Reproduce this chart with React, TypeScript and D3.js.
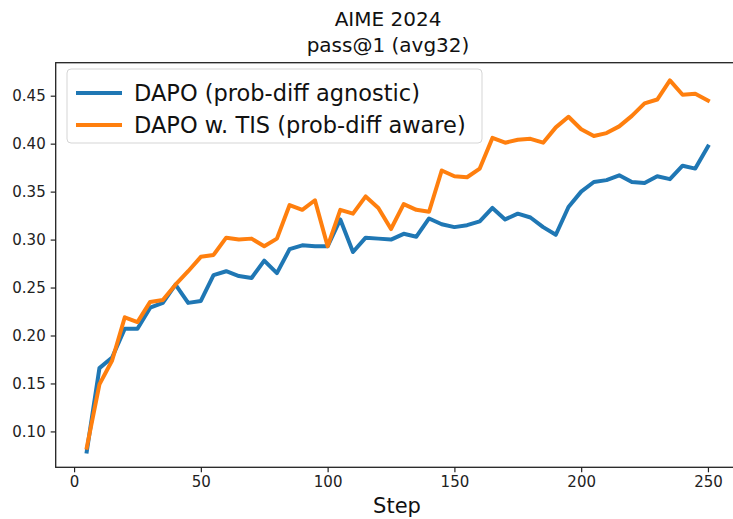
import React, { useEffect, useRef } from "react";
import * as d3 from "d3";

const steps = [
  5, 10, 15, 20, 25, 30, 35, 40, 45, 50, 55, 60, 65, 70, 75, 80, 85, 90, 95, 100,
  105, 110, 115, 120, 125, 130, 135, 140, 145, 150, 155, 160, 165, 170, 175, 180,
  185, 190, 195, 200, 205, 210, 215, 220, 225, 230, 235, 240, 245, 250,
];

const dapo = [
  0.079, 0.166, 0.177, 0.207, 0.207, 0.229, 0.234, 0.253, 0.234, 0.236,
  0.263, 0.267, 0.262, 0.260, 0.278, 0.265, 0.290, 0.294, 0.293, 0.293,
  0.321, 0.287, 0.302, 0.301, 0.300, 0.306, 0.303, 0.322, 0.316, 0.313,
  0.315, 0.319, 0.333, 0.321, 0.327, 0.323, 0.313, 0.305, 0.334, 0.350,
  0.360, 0.362, 0.367, 0.360, 0.359, 0.366, 0.363, 0.377, 0.374, 0.397,
];

const dapoTis = [
  0.083, 0.149, 0.174, 0.219, 0.214, 0.235, 0.237, 0.253, 0.267, 0.282,
  0.284, 0.302, 0.300, 0.301, 0.293, 0.301, 0.336, 0.331, 0.341, 0.293,
  0.331, 0.327, 0.345, 0.333, 0.311, 0.337, 0.331, 0.329, 0.372, 0.366,
  0.365, 0.374, 0.406, 0.401, 0.404, 0.405, 0.401, 0.417, 0.428, 0.415,
  0.408, 0.411, 0.418, 0.429, 0.442, 0.446, 0.466, 0.451, 0.452, 0.445,
];

const seriesNames = ["DAPO (prob-diff agnostic)", "DAPO w. TIS (prob-diff aware)"];
const seriesColors = ["#1f77b4", "#ff7f0e"];
const xTicks = [0, 50, 100, 150, 200, 250];
const yTicks = [0.1, 0.15, 0.2, 0.25, 0.3, 0.35, 0.4, 0.45];

const font = "DejaVu Sans, sans-serif";

function App() {
  const svgRef = useRef<SVGSVGElement>(null);
  const width = 733;
  const height = 519;
  const plot = { left: 55.7, right: 739, top: 62.7, bottom: 467.3 };

  useEffect(() => {
    const svg = d3.select(svgRef.current);
    svg.selectAll("*").remove();

    const x = d3.scaleLinear().domain([-7.25, 262.25]).range([plot.left, plot.right]);
    const y = d3.scaleLinear().domain([0.0626, 0.4844]).range([plot.bottom, plot.top]);

    svg.append("rect").attr("width", width).attr("height", height).attr("fill", "white");

    // title
    const title = svg
      .append("text")
      .attr("text-anchor", "middle")
      .attr("font-family", font)
      .attr("font-size", 20)
      .attr("fill", "#111");
    title.append("tspan").attr("x", 388).attr("y", 26).text("AIME 2024");
    title.append("tspan").attr("x", 388).attr("y", 52).text("pass@1 (avg32)");

    // lines
    const line = d3
      .line<number>()
      .x((_, i) => x(steps[i]))
      .y((d) => y(d));

    [dapo, dapoTis].forEach((vals, k) => {
      svg
        .append("path")
        .datum(vals)
        .attr("d", line)
        .attr("fill", "none")
        .attr("stroke", seriesColors[k])
        .attr("stroke-width", 4)
        .attr("stroke-linejoin", "round")
        .attr("stroke-linecap", "square");
    });

    // frame
    svg
      .append("rect")
      .attr("x", plot.left)
      .attr("y", plot.top)
      .attr("width", plot.right - plot.left)
      .attr("height", plot.bottom - plot.top)
      .attr("fill", "none")
      .attr("stroke", "#222")
      .attr("stroke-width", 1.3);

    // x axis
    const xAxis = svg
      .append("g")
      .attr("transform", `translate(0,${plot.bottom})`)
      .call(d3.axisBottom(x).tickValues(xTicks).tickSize(5).tickPadding(4).tickFormat(d3.format("d")));
    xAxis.select(".domain").remove();
    xAxis.selectAll("line").attr("stroke", "#222").attr("stroke-width", 1.2);
    xAxis
      .selectAll("text")
      .attr("font-family", font)
      .attr("font-size", 15)
      .attr("fill", "#222");

    // y axis
    const yAxis = svg
      .append("g")
      .attr("transform", `translate(${plot.left},0)`)
      .call(d3.axisLeft(y).tickValues(yTicks).tickSize(5).tickPadding(5).tickFormat(d3.format(".2f")));
    yAxis.select(".domain").remove();
    yAxis.selectAll("line").attr("stroke", "#222").attr("stroke-width", 1.2);
    yAxis
      .selectAll("text")
      .attr("font-family", font)
      .attr("font-size", 15)
      .attr("fill", "#222");

    svg
      .append("text")
      .attr("x", 397)
      .attr("y", 513)
      .attr("text-anchor", "middle")
      .attr("font-family", font)
      .attr("font-size", 21)
      .attr("fill", "#111")
      .text("Step");

    // legend
    const legend = svg.append("g");
    legend
      .append("rect")
      .attr("x", 67)
      .attr("y", 69)
      .attr("width", 415)
      .attr("height", 74)
      .attr("rx", 4)
      .attr("fill", "white")
      .attr("fill-opacity", 0.8)
      .attr("stroke", "#d5d5d5")
      .attr("stroke-width", 1);

    seriesNames.forEach((name, i) => {
      const cy = 93 + i * 32;
      legend
        .append("line")
        .attr("x1", 76)
        .attr("x2", 122)
        .attr("y1", cy)
        .attr("y2", cy)
        .attr("stroke", seriesColors[i])
        .attr("stroke-width", 4);
      legend
        .append("text")
        .attr("x", 134)
        .attr("y", cy + 8)
        .attr("font-family", font)
        .attr("font-size", 22.5)
        .attr("fill", "#111")
        .text(name);
    });
  }, []);

  return (
    <svg
      ref={svgRef}
      width={width}
      height={height}
      style={{ position: "absolute", left: 0, top: 0 }}
    ></svg>
  );
}

export default App;
